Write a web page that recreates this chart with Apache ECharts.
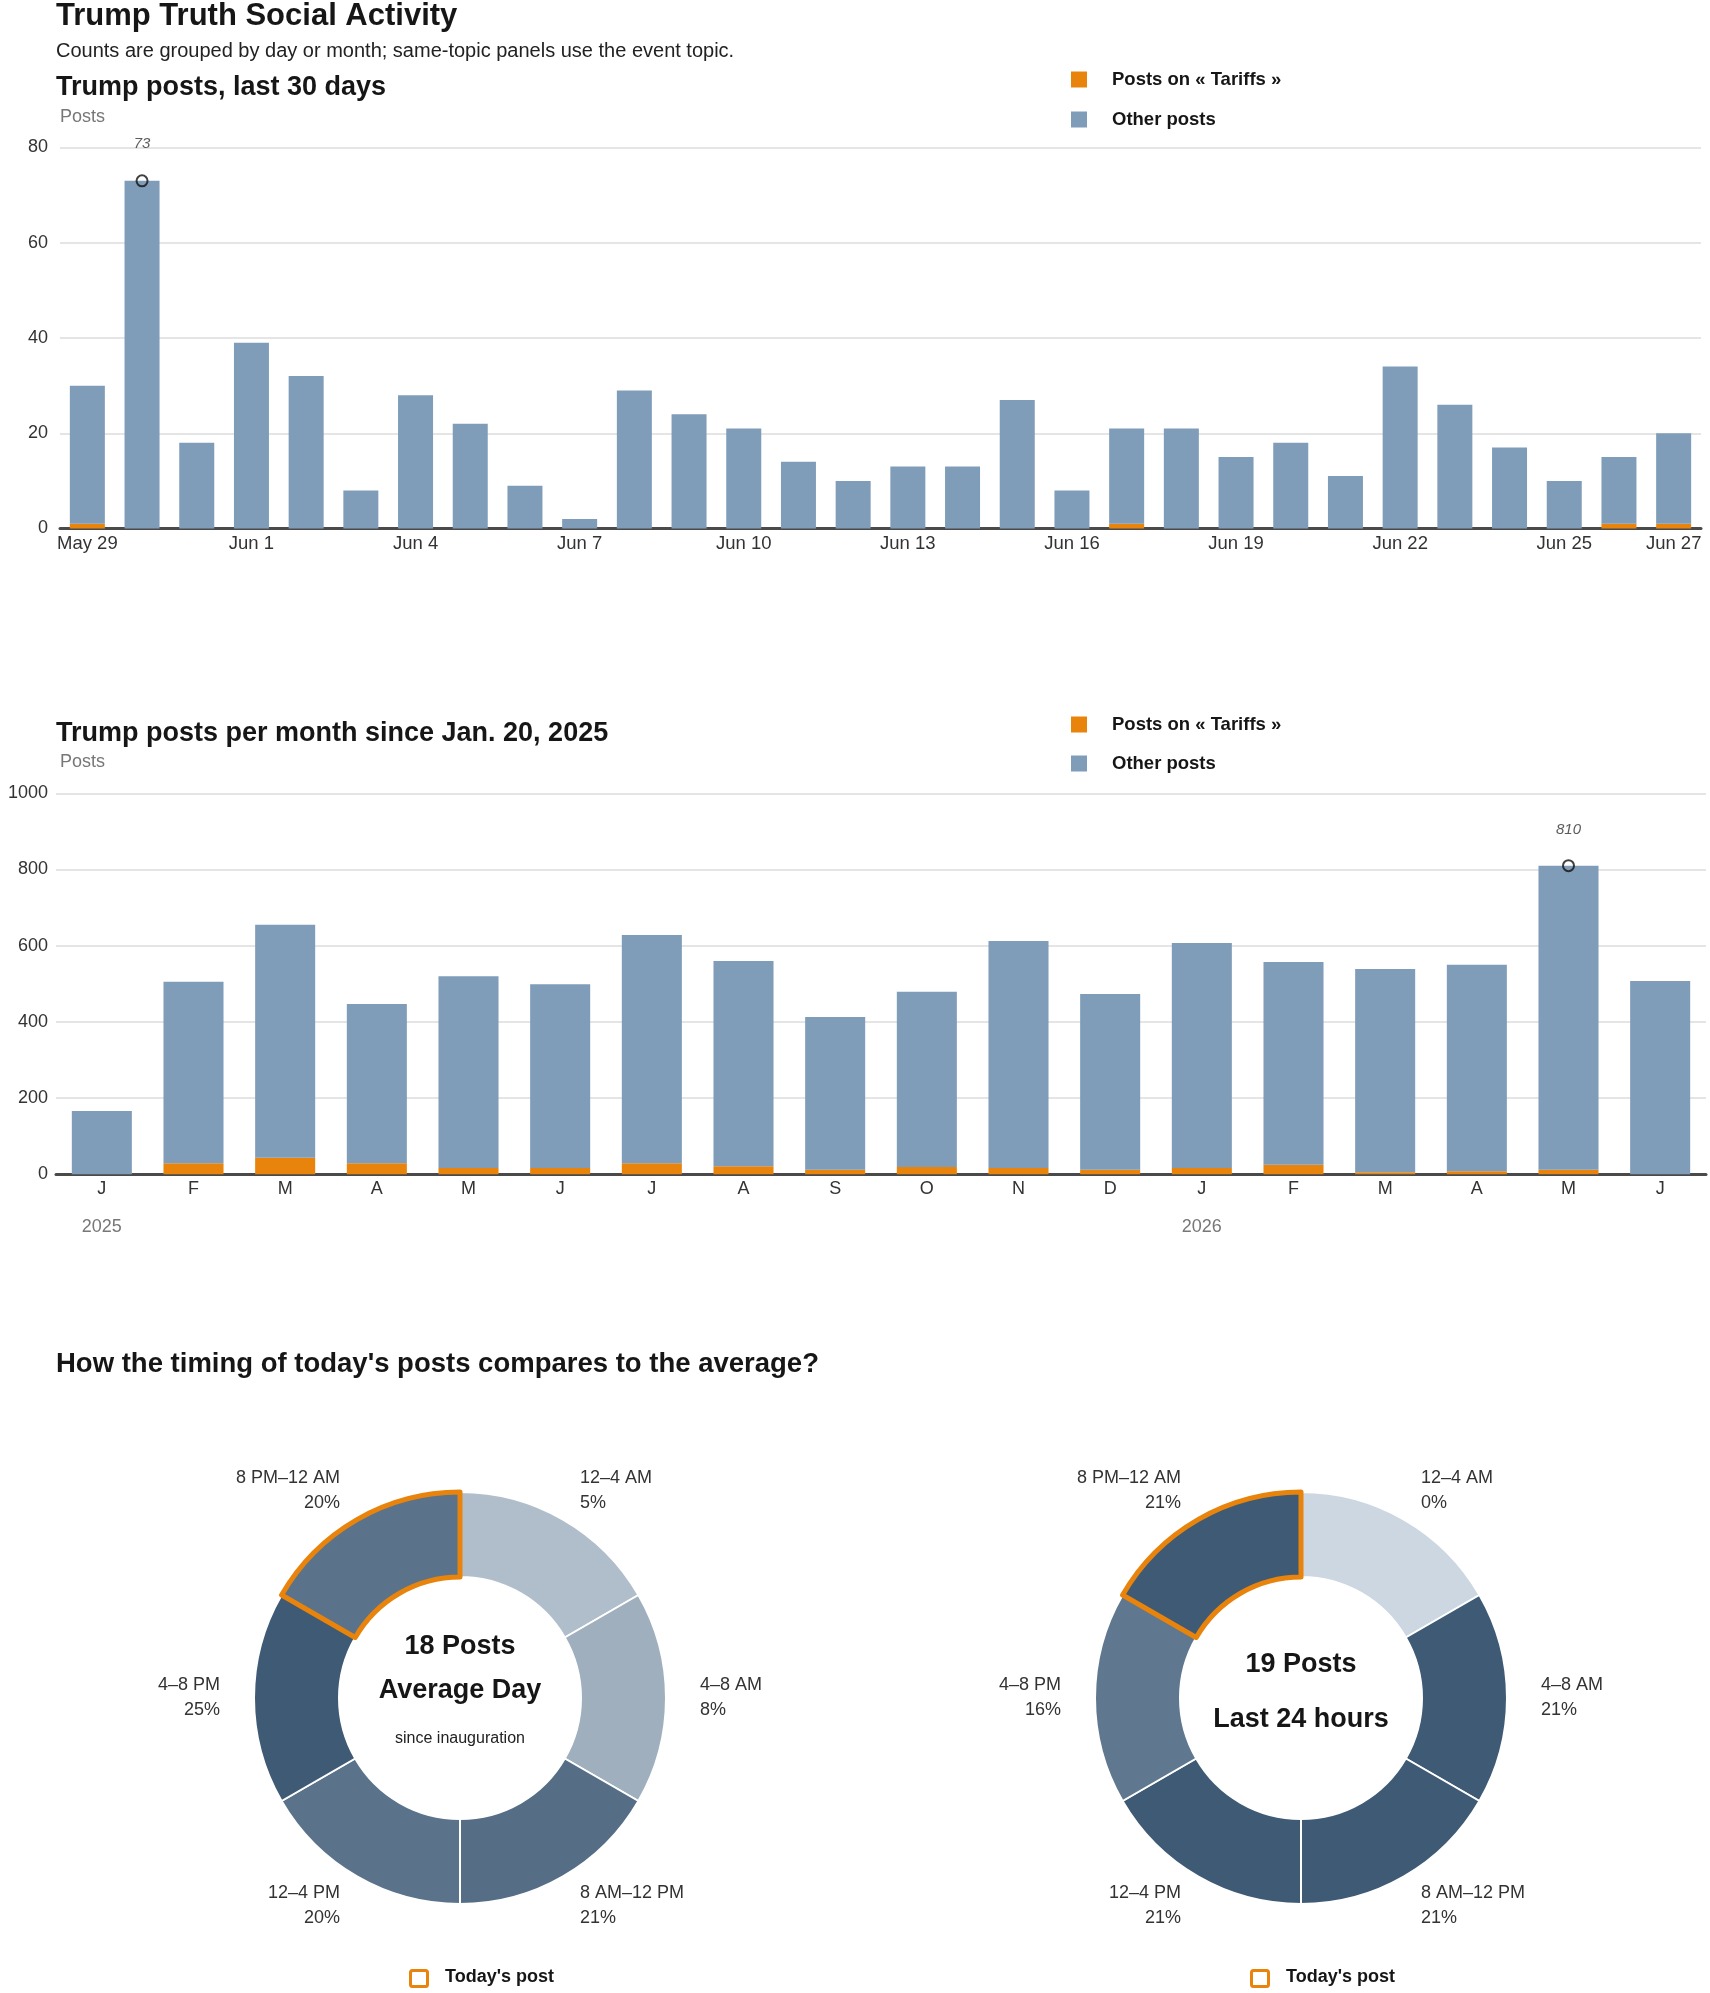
<!DOCTYPE html>
<html>
<head>
<meta charset="utf-8">
<title>Trump Truth Social Activity</title>
<script src="https://cdn.jsdelivr.net/npm/echarts@6/dist/echarts.min.js"></script>
<style>
html, body { margin: 0; padding: 0; background: #fff; }
#chart { width: 1710px; height: 1993px; }
</style>
</head>
<body>
<div id="chart"></div>
<script>
var FONT = "'Liberation Sans', Arial, sans-serif";
var ORANGE = '#e8830c';
var BLUE = '#7f9db9';
var INK = '#161616';

// last 30 days
var dayLabels = ['May 29', 'May 30', 'May 31', 'Jun 1', 'Jun 2', 'Jun 3', 'Jun 4', 'Jun 5', 'Jun 6', 'Jun 7',
    'Jun 8', 'Jun 9', 'Jun 10', 'Jun 11', 'Jun 12', 'Jun 13', 'Jun 14', 'Jun 15', 'Jun 16', 'Jun 17',
    'Jun 18', 'Jun 19', 'Jun 20', 'Jun 21', 'Jun 22', 'Jun 23', 'Jun 24', 'Jun 25', 'Jun 26', 'Jun 27'];
var dayTariffs = [1, 0, 0, 0, 0, 0, 0, 0, 0, 0, 0, 0, 0, 0, 0, 0, 0, 0, 0, 1, 0, 0, 0, 0, 0, 0, 0, 0, 1, 1];
var dayOther = [29, 73, 18, 39, 32, 8, 28, 22, 9, 2, 29, 24, 21, 14, 10, 13, 13, 27, 8, 20, 21, 15, 18, 11, 34, 26, 17, 10, 14, 19];

// per month since Jan. 20, 2025
var monthLabels = ['J', 'F', 'M', 'A', 'M', 'J', 'J', 'A', 'S', 'O', 'N', 'D', 'J', 'F', 'M', 'A', 'M', 'J'];
var yearLabels = ['2025', '', '', '', '', '', '', '', '', '', '', '', '2026', '', '', '', '', ''];
var monthTariffs = [0, 29, 43, 29, 16, 16, 29, 21, 12, 19, 16, 12, 16, 25, 5, 8, 12, 0];
var monthOther = [166, 476, 612, 418, 504, 483, 599, 539, 401, 460, 596, 461, 591, 532, 534, 542, 798, 507];

// share of posts by time of day (%)
var slotNames = ['12–4 AM', '4–8 AM', '8 AM–12 PM', '12–4 PM', '4–8 PM', '8 PM–12 AM'];
var avgShare = [5, 8, 21, 20, 25, 20];
var todayShare = [0, 21, 21, 21, 16, 21];
var todaySlot = 5;

function peakPoint(tariffs, other) {
    var best = 0;
    for (var i = 1; i < other.length; i++) {
        if (tariffs[i] + other[i] > tariffs[best] + other[best]) best = i;
    }
    return [[best, tariffs[best] + other[best]]];
}

// light -> dark blue, scaled on the biggest share of the donut
function shade(v, max) {
    var a = [204, 215, 225], b = [62, 90, 117];
    var t = max ? v / max : 0;
    var c = a.map(function (x, k) { return Math.round(x + (b[k] - x) * t); });
    return 'rgb(' + c.join(',') + ')';
}

function heading(text, left, cy, size, opts) {
    opts = opts || {};
    return {
        text: text, left: left, top: cy - size * 0.6, padding: 0,
        textAlign: opts.align || 'left',
        textStyle: {
            fontFamily: FONT, fontSize: size, lineHeight: size * 1.2,
            fontWeight: opts.weight || 'bold', color: opts.color || INK
        }
    };
}

function legendItem(name, cy) {
    return {
        data: [{ name: name, icon: 'rect' }],
        left: 1071, top: cy - 8, padding: 0,
        itemWidth: 16, itemHeight: 16,
        selectedMode: false,
        textStyle: {
            fontFamily: FONT, fontWeight: 'bold', fontSize: 18.5, lineHeight: 16,
            color: INK, padding: [0, 0, 0, 20]
        }
    };
}

function peakSeries(idx, tariffs, other, dist) {
    return {
        type: 'scatter', xAxisIndex: idx, yAxisIndex: idx, z: 5, silent: true,
        symbol: 'circle', symbolSize: 11,
        itemStyle: { color: 'rgba(0,0,0,0)', borderColor: '#111', borderWidth: 2 },
        label: {
            show: true, position: 'top', distance: dist,
            formatter: function (p) { return p.value[1]; },
            fontFamily: FONT, fontStyle: 'italic', fontSize: 15, color: '#333'
        },
        data: peakPoint(tariffs, other)
    };
}

function donut(cx, shares) {
    var max = Math.max.apply(null, shares);
    return {
        type: 'pie', center: [cx, 1698], radius: [121, 206],
        startAngle: 90, clockwise: true, avoidLabelOverlap: false, silent: true,
        label: {
            show: true, position: 'outside', distanceToLabelLine: 0,
            formatter: function (p) { return p.name + '\n' + shares[p.dataIndex] + '%'; },
            fontFamily: FONT, fontSize: 18, lineHeight: 25, color: '#333'
        },
        labelLine: { show: false, length: 34, length2: 0 },
        emphasis: { disabled: true },
        data: slotNames.map(function (n, i) {
            var hit = i === todaySlot;
            return {
                name: n, value: 1,
                itemStyle: {
                    color: shade(shares[i], max),
                    borderColor: hit ? ORANGE : '#fff',
                    borderWidth: hit ? 5 : 2
                }
            };
        })
    };
}

var yLabel = { fontFamily: FONT, fontSize: 18, color: '#333', formatter: function (v) { return String(v); } };
var split = { lineStyle: { color: '#dddddd', width: 1.5 } };
var baseLine = { lineStyle: { color: '#4a4a4a', width: 3 } };

var option = {
    animation: false,
    backgroundColor: '#fff',
    title: [
        heading('Trump Truth Social Activity', 56, 16, 31),
        heading('Counts are grouped by day or month; same-topic panels use the event topic.', 56, 51, 20, { weight: 'normal', color: '#222' }),
        heading('Trump posts, last 30 days', 56, 88, 27),
        heading('Posts', 60, 117, 18, { weight: 'normal', color: '#777' }),
        heading('Trump posts per month since Jan. 20, 2025', 56, 734, 27),
        heading('Posts', 60, 762, 18, { weight: 'normal', color: '#777' }),
        heading("How the timing of today's posts compares to the average?", 56, 1364, 27.5),
        heading('18 Posts', 460, 1647, 27, { align: 'center' }),
        heading('Average Day', 460, 1691, 27, { align: 'center' }),
        heading('since inauguration', 460, 1739, 16, { align: 'center', weight: 'normal', color: '#222' }),
        heading('19 Posts', 1301, 1665, 27, { align: 'center' }),
        heading('Last 24 hours', 1301, 1720, 27, { align: 'center' })
    ],
    legend: [
        legendItem('Posts on « Tariffs »', 78),
        legendItem('Other posts', 118),
        legendItem('Posts on « Tariffs »', 723),
        legendItem('Other posts', 762)
    ],
    grid: [
        { left: 60, right: 9, top: 147.5, bottom: 1993 - 528.5 },
        { left: 56, right: 4, top: 793.3, bottom: 1993 - 1174.2 }
    ],
    xAxis: [
        {
            type: 'category', gridIndex: 0, data: dayLabels,
            axisLine: baseLine, axisTick: { show: false },
            axisLabel: {
                fontFamily: FONT, fontSize: 18.5, color: '#333', margin: 6,
                interval: function (i) { return i % 3 === 0 || i === dayLabels.length - 1; }
            }
        },
        {
            type: 'category', gridIndex: 1, data: monthLabels,
            axisLine: baseLine, axisTick: { show: false },
            axisLabel: { fontFamily: FONT, fontSize: 18, color: '#333', margin: 6, interval: 0 }
        },
        {
            type: 'category', gridIndex: 1, data: yearLabels, position: 'bottom', offset: 38,
            axisLine: { show: false }, axisTick: { show: false },
            axisLabel: { fontFamily: FONT, fontSize: 18, color: '#777', margin: 6, interval: 0 }
        }
    ],
    yAxis: [
        {
            type: 'value', gridIndex: 0, min: 0, max: 80, interval: 20,
            axisLine: { show: false }, axisTick: { show: false },
            axisLabel: Object.assign({ margin: 12 }, yLabel), splitLine: split
        },
        {
            type: 'value', gridIndex: 1, min: 0, max: 1000, interval: 200,
            axisLine: { show: false }, axisTick: { show: false },
            axisLabel: Object.assign({ margin: 8 }, yLabel), splitLine: split
        }
    ],
    series: [
        {
            name: 'Posts on « Tariffs »', type: 'bar', stack: 'day', xAxisIndex: 0, yAxisIndex: 0,
            barCategoryGap: '36%', itemStyle: { color: ORANGE }, data: dayTariffs
        },
        {
            name: 'Other posts', type: 'bar', stack: 'day', xAxisIndex: 0, yAxisIndex: 0,
            barCategoryGap: '36%', itemStyle: { color: BLUE }, data: dayOther
        },
        peakSeries(0, dayTariffs, dayOther, 23),
        {
            name: 'Posts on « Tariffs »', type: 'bar', stack: 'month', xAxisIndex: 1, yAxisIndex: 1,
            barCategoryGap: '34.5%', itemStyle: { color: ORANGE }, data: monthTariffs
        },
        {
            name: 'Other posts', type: 'bar', stack: 'month', xAxisIndex: 1, yAxisIndex: 1,
            barCategoryGap: '34.5%', itemStyle: { color: BLUE }, data: monthOther
        },
        peakSeries(1, monthTariffs, monthOther, 22),
        donut(460, avgShare),
        donut(1301, todayShare)
    ],
    graphic: [
        { type: 'rect', shape: { x: 410.5, y: 1970.5, width: 17, height: 16, r: 2 },
          style: { fill: '#fff', stroke: ORANGE, lineWidth: 3 } },
        { type: 'text', x: 445, y: 1977,
          style: { text: "Today's post", fontFamily: FONT, fontWeight: 'bold', fontSize: 18, fill: INK, verticalAlign: 'middle' } },
        { type: 'rect', shape: { x: 1251.5, y: 1970.5, width: 17, height: 16, r: 2 },
          style: { fill: '#fff', stroke: ORANGE, lineWidth: 3 } },
        { type: 'text', x: 1286, y: 1977,
          style: { text: "Today's post", fontFamily: FONT, fontWeight: 'bold', fontSize: 18, fill: INK, verticalAlign: 'middle' } }
    ]
};

var chart = echarts.init(document.getElementById('chart'), null, { renderer: 'canvas' });
chart.setOption(option);
</script>
</body>
</html>
